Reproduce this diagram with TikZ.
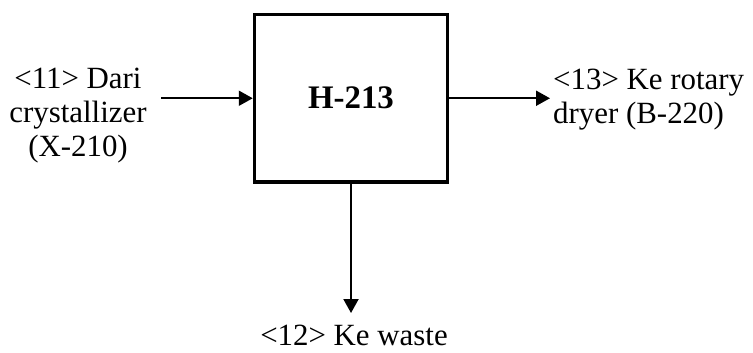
\documentclass[tikz,border=0pt]{standalone}
\usepackage{fontspec}
\setmainfont{Liberation Serif}
\usetikzlibrary{arrows.meta}
\begin{document}
\begin{tikzpicture}[x=1bp,y=-1bp,
  unit/.style={draw,line width=3.5bp,minimum width=193bp,minimum height=167.5bp,inner sep=0pt,font=\fontsize{33}{36}\selectfont\bfseries},
  lbl/.style={inner sep=0pt,font=\fontsize{31}{34}\selectfont},
  flow/.style={line width=2bp,-{Triangle[length=14bp,width=15bp]}}]
\useasboundingbox (0,0) rectangle (753,352);
\node[unit] (box) at (351,98.25) {H-213};
\coordinate (in1) at (161,98.25);
\coordinate (out1) at (550,98.25);
\coordinate (out2) at (351,313);
\node[lbl,align=center,anchor=base] (l11) at (78,156) {<11> Dari\\crystallizer\\(X-210)};
\node[lbl,align=left,anchor=base west] (l13) at (553,123) {<13> Ke rotary\\dryer (B-220)};
\node[lbl,anchor=base] (l12) at (354,345) {<12> Ke waste};
\draw[flow] (in1) -- (box.west);
\draw[flow] (box.east) -- (out1);
\draw[flow] (box.south) -- (out2);
\end{tikzpicture}
\end{document}
